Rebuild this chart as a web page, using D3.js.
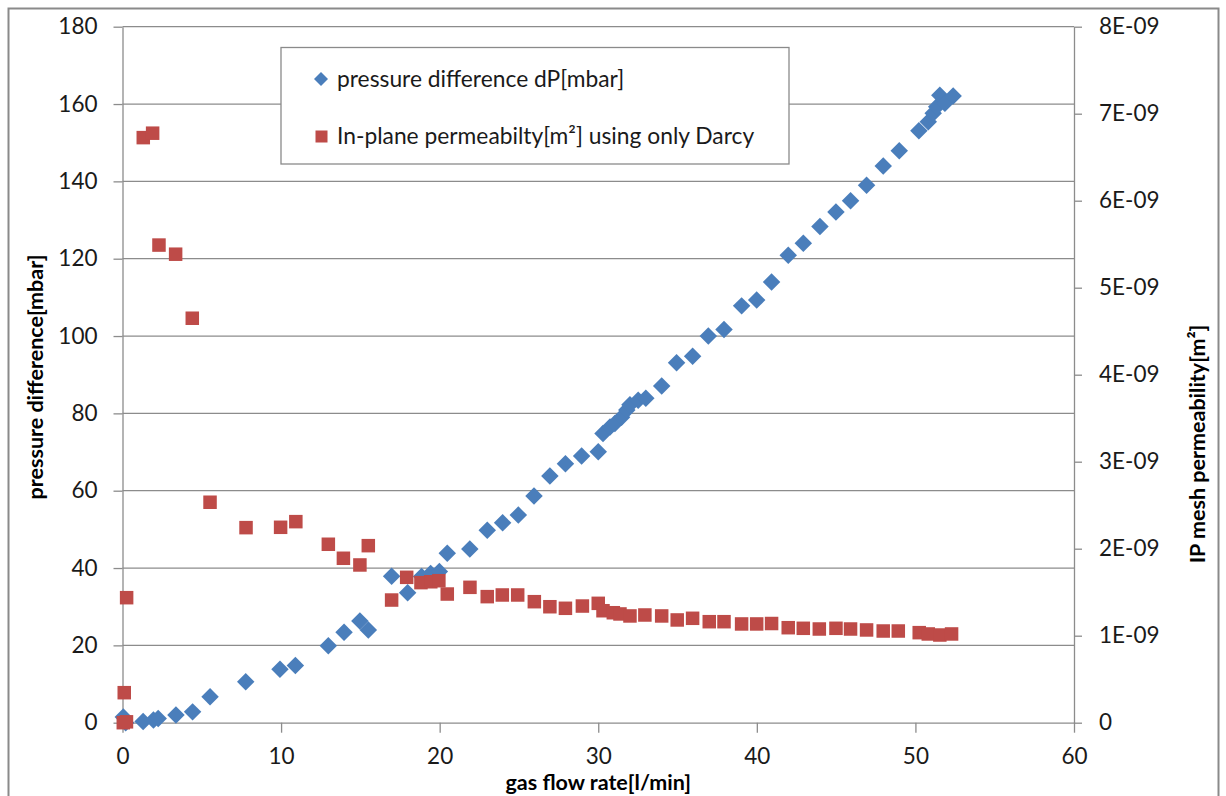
<!DOCTYPE html>
<html>
<head>
<meta charset="utf-8">
<script src="https://cdn.jsdelivr.net/npm/d3@7"></script>
<style>
    body { margin: 0; background: #fff; }
    svg { display: block; }
</style>
</head>
<body>
<div id="chart"></div>
<script>
// gas flow rate [l/min] vs pressure difference [mbar]
const dpFlow = [0.05, 0.2, 1.3, 1.95, 2.25, 3.37, 4.42, 5.52, 7.77, 9.93, 10.9, 12.98, 13.97, 14.97, 15.5,
    16.97, 17.98, 18.86, 19.43, 19.98, 20.48, 21.9, 23.0, 23.97, 24.96, 25.95, 26.95, 27.93, 28.95, 30.0,
    30.3, 30.74, 31.05, 31.47, 31.8, 32.0, 32.52, 33.0, 34.0, 34.94, 35.95, 36.94, 37.93, 39.04, 39.99,
    40.93, 41.98, 42.93, 43.98, 44.99, 45.91, 46.92, 47.97, 48.98, 50.22, 50.81, 51.12, 51.34, 51.54, 51.86, 52.38];
const dpValues = [1.5, 0, 0.3, 0.7, 1.1, 2.0, 2.8, 6.7, 10.6, 13.8, 14.8, 19.9, 23.4, 26.3, 24.0,
    37.9, 33.6, 37.8, 38.6, 39.1, 43.8, 44.9, 49.8, 51.7, 53.7, 58.6, 63.8, 67.0, 69.0, 70.1,
    74.8, 76.5, 77.4, 79.0, 80.9, 82.2, 83.4, 83.9, 87.1, 93.1, 94.8, 100.0, 101.7, 107.8, 109.3,
    114.0, 120.9, 124.0, 128.3, 132.1, 135.0, 139.0, 144.0, 147.9, 153.1, 155.4, 157.6, 159.3, 162.3, 160.2, 162.1];

// gas flow rate [l/min] vs in-plane permeability [m²]
const permFlow = [0.05, 0.25, 0.11, 0.26, 1.31, 1.9, 2.3, 3.35, 4.4, 5.52, 7.79, 9.97, 10.93, 12.98, 13.93,
    14.97, 15.5, 16.97, 17.92, 18.82, 19.44, 19.95, 20.48, 21.91, 23.0, 23.95, 24.92, 25.97, 26.95, 27.93,
    29.0, 30.0, 30.3, 30.95, 31.37, 32.0, 32.94, 34.0, 34.98, 35.95, 37.0, 37.93, 39.04, 39.99, 40.93,
    41.98, 42.93, 43.94, 44.99, 45.91, 46.92, 47.97, 48.92, 50.24, 50.81, 51.54, 52.28];
const permValues = [0, 0.01e-9, 0.345e-9, 1.437e-9, 6.725e-9, 6.776e-9, 5.49e-9, 5.385e-9, 4.649e-9, 2.534e-9, 2.242e-9, 2.246e-9, 2.311e-9, 2.051e-9, 1.89e-9,
    1.813e-9, 2.035e-9, 1.41e-9, 1.671e-9, 1.61e-9, 1.62e-9, 1.632e-9, 1.479e-9, 1.556e-9, 1.449e-9, 1.468e-9, 1.468e-9, 1.391e-9, 1.333e-9, 1.315e-9,
    1.341e-9, 1.372e-9, 1.287e-9, 1.264e-9, 1.25e-9, 1.227e-9, 1.238e-9, 1.227e-9, 1.181e-9, 1.2e-9, 1.161e-9, 1.161e-9, 1.135e-9, 1.135e-9, 1.14e-9,
    1.092e-9, 1.085e-9, 1.077e-9, 1.085e-9, 1.077e-9, 1.066e-9, 1.054e-9, 1.054e-9, 1.035e-9, 1.02e-9, 1.008e-9, 1.02e-9];

const xTicks = [0, 10, 20, 30, 40, 50, 60];
const yLeftTicks = [0, 20, 40, 60, 80, 100, 120, 140, 160, 180];
const yRightTicks = [0, 1e-9, 2e-9, 3e-9, 4e-9, 5e-9, 6e-9, 7e-9, 8e-9];
const seriesNames = ["pressure difference dP[mbar]", "In-plane permeabilty[m²] using only Darcy"];

const config = {
    width: 1226,
    height: 796,
    margin: { left: 122.5, top: 26.7, right: 152, bottom: 73.3 },
    font: "Lato, 'Open Sans', sans-serif",
    gridColor: "#8c8c8c",
    blue: "#4a7ebb",
    red: "#be4b48"
};

const { width, height, margin, font } = config;
const innerW = width - margin.left - margin.right;
const innerH = height - margin.top - margin.bottom;

const svg = d3.select("#chart")
    .append("svg")
        .attr("width", width)
        .attr("height", height);

// outer chart border
svg.append("rect")
    .attr("x", 8.5).attr("y", 8.5)
    .attr("width", 1210).attr("height", 800)
    .attr("fill", "none")
    .attr("stroke", "#8a8a8a")
    .attr("stroke-width", 2);

const g = svg.append("g")
    .attr("transform", "translate(" + margin.left + "," + margin.top + ")");

const x = d3.scaleLinear().domain([0, 60]).range([0, innerW]);
const yL = d3.scaleLinear().domain([0, 180]).range([innerH, 0]);
const yR = d3.scaleLinear().domain([0, 8e-9]).range([innerH, 0]);

// horizontal gridlines
g.append("g")
    .selectAll("line")
    .data(yLeftTicks.slice(1))
    .enter().append("line")
        .attr("x1", 0).attr("x2", innerW)
        .attr("y1", d => yL(d)).attr("y2", d => yL(d))
        .attr("stroke", config.gridColor)
        .attr("stroke-width", 1.3);

function styleAxis(sel) {
    sel.select(".domain").attr("stroke", config.gridColor).attr("stroke-width", 1.3);
    sel.selectAll(".tick line").attr("stroke", config.gridColor).attr("stroke-width", 1.3);
    sel.selectAll(".tick text")
        .attr("fill", "#1a1a1a")
        .attr("font-family", font)
        .attr("font-size", 22.5);
}

// x-axis
g.append("g")
    .attr("transform", "translate(0," + innerH + ")")
    .call(d3.axisBottom(x).tickValues(xTicks).tickSize(10).tickSizeOuter(0).tickPadding(15))
    .call(styleAxis);

// left y-axis
g.append("g")
    .call(d3.axisLeft(yL).tickValues(yLeftTicks).tickSize(9).tickSizeOuter(0).tickPadding(16))
    .call(styleAxis);

// right y-axis
g.append("g")
    .attr("transform", "translate(" + innerW + ",0)")
    .call(d3.axisRight(yR).tickValues(yRightTicks).tickSize(8).tickSizeOuter(0).tickPadding(17)
        .tickFormat(d => d === 0 ? "0" : Math.round(d * 1e9) + "E-09"))
    .call(styleAxis);

// axis titles
svg.append("text")
    .attr("x", margin.left + innerW / 2)
    .attr("y", 790)
    .attr("text-anchor", "middle")
    .attr("font-family", font)
    .attr("font-weight", "bold")
    .attr("font-size", 21.5)
    .text("gas flow rate[l/min]");

svg.append("text")
    .attr("transform", "translate(43,377) rotate(-90)")
    .attr("text-anchor", "middle")
    .attr("font-family", font)
    .attr("font-weight", "bold")
    .attr("font-size", 21.5)
    .text("pressure difference[mbar]");

svg.append("text")
    .attr("transform", "translate(1205,444) rotate(-90)")
    .attr("text-anchor", "middle")
    .attr("font-family", font)
    .attr("font-weight", "bold")
    .attr("font-size", 21.5)
    .text("IP mesh permeability[m²]");

// pressure difference markers (diamonds)
const diamond = d3.symbol().type(d3.symbolDiamond2).size(195);
g.append("g")
    .selectAll("path")
    .data(dpFlow.map((f, i) => ({ f: f, v: dpValues[i] })))
    .enter().append("path")
        .attr("d", diamond)
        .attr("transform", d => "translate(" + x(d.f) + "," + yL(d.v) + ")")
        .attr("fill", config.blue);

// permeability markers (squares)
const sq = 13.5;
g.append("g")
    .selectAll("rect")
    .data(permFlow.map((f, i) => ({ f: f, v: permValues[i] })))
    .enter().append("rect")
        .attr("x", d => x(d.f) - sq / 2)
        .attr("y", d => yR(d.v) - sq / 2)
        .attr("width", sq).attr("height", sq)
        .attr("fill", config.red);

// legend
const legend = svg.append("g");
legend.append("rect")
    .attr("x", 281).attr("y", 47.5)
    .attr("width", 508).attr("height", 116.5)
    .attr("fill", "#fff")
    .attr("stroke", "#8a8a8a")
    .attr("stroke-width", 1.3);

legend.append("path")
    .attr("d", d3.symbol().type(d3.symbolDiamond2).size(125))
    .attr("transform", "translate(321,79)")
    .attr("fill", config.blue);
legend.append("rect")
    .attr("x", 315.5).attr("y", 130.5)
    .attr("width", 12).attr("height", 12)
    .attr("fill", config.red);

legend.selectAll("text")
    .data(seriesNames)
    .enter().append("text")
        .attr("x", 337)
        .attr("y", (d, i) => 79 + i * 57)
        .attr("dy", "0.35em")
        .attr("font-family", font)
        .attr("font-size", 22.8)
        .attr("fill", "#1a1a1a")
        .text(d => d);
</script>
</body>
</html>
